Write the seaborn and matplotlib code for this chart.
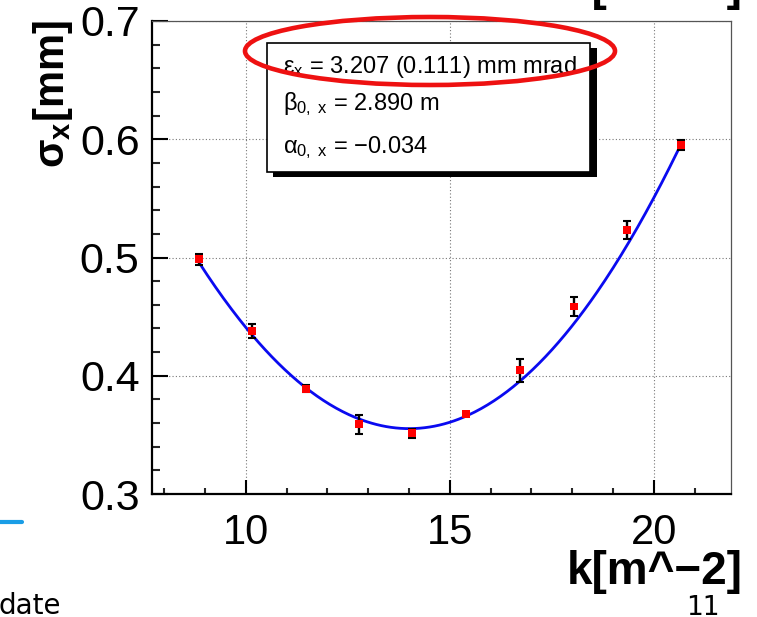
import numpy as np
import pandas as pd
import matplotlib
matplotlib.use("Agg")
import matplotlib.pyplot as plt
import seaborn as sns
from matplotlib.patches import Rectangle, Ellipse
from matplotlib.lines import Line2D
from matplotlib.ticker import MultipleLocator, FixedLocator, FormatStrFormatter

# ---- data ----
k_values = [8.86, 10.16, 11.47, 12.78, 14.08, 15.40, 16.72, 18.04, 19.35, 20.66]
sigma_values = [0.4986, 0.4377, 0.3890, 0.3589, 0.3513, 0.3673, 0.4048, 0.4586, 0.5230, 0.5950]
sigma_errors = [0.0047, 0.0058, 0.0030, 0.0080, 0.0038, 0.0012, 0.0097, 0.0082, 0.0075, 0.0040]
fit_curve_sigma = [0.4952, 0.4350, 0.3890, 0.3634, 0.3552, 0.3668, 0.3960, 0.4417, 0.5127, 0.5950]
x_ticks = [10, 15, 20]
y_ticks = [0.3, 0.4, 0.5, 0.6, 0.7]
stats_lines = [r"$ε_x$ = 3.207 (0.111) mm mrad",
               r"$β_{0,\ x}$ = 2.890 m",
               r"$α_{0,\ x}$ = −0.034"]

df = pd.DataFrame({"k": k_values, "sigma": sigma_values, "err": sigma_errors})

# smooth polynomial through the read-off fit-curve values
coef = np.polyfit(np.array(k_values), np.array(fit_curve_sigma), 4)
k_fit = np.linspace(min(k_values), max(k_values), 300)
fit_df = pd.DataFrame({"k": k_fit, "sigma": np.polyval(coef, k_fit)})

sns.set_theme(style="white")
plt.rcParams["font.family"] = ["Liberation Sans", "DejaVu Sans"]
plt.rcParams["mathtext.fontset"] = "custom"
plt.rcParams["mathtext.rm"] = "Liberation Sans"
plt.rcParams["mathtext.it"] = "Liberation Sans"
plt.rcParams["mathtext.sf"] = "Liberation Sans"
plt.rcParams["mathtext.bf"] = "Liberation Sans:bold"

W, H = 757, 617
fig = plt.figure(figsize=(W / 100, H / 100), dpi=100)
fig.patch.set_facecolor("white")

def fx(px):
    return px / W

def fy(py):
    return 1 - py / H

ax = fig.add_axes([fx(152), fy(494), (731 - 152) / W, (494 - 21) / H])
ax.set_facecolor("white")

# grid
for xv in x_ticks:
    ax.axvline(xv, color="#777777", lw=0.8, ls=(0, (1, 2)), zorder=0)
for yv in [0.4, 0.5, 0.6, 0.7]:
    ax.axhline(yv, color="#777777", lw=0.8, ls=(0, (1, 2)), zorder=0)

# fit curve
sns.lineplot(data=fit_df, x="k", y="sigma", ax=ax, color="#0a0af0", lw=2.0, zorder=3)
# error bars
ax.errorbar(df["k"], df["sigma"], yerr=df["err"], fmt="none", ecolor="black",
            elinewidth=1.7, capsize=2.6, capthick=1.5, zorder=4)
# points
sns.scatterplot(data=df, x="k", y="sigma", ax=ax, marker="s", s=32, color="#ff0000",
                edgecolor="none", linewidth=0, zorder=5)

ax.set_xlim(7.70, 21.89)
ax.set_ylim(0.3, 0.7)
ax.set_xlabel("")
ax.set_ylabel("")
ax.xaxis.set_major_locator(FixedLocator(x_ticks))
ax.xaxis.set_minor_locator(MultipleLocator(1))
ax.yaxis.set_major_locator(FixedLocator(y_ticks))
ax.yaxis.set_minor_locator(MultipleLocator(0.02))
ax.yaxis.set_major_formatter(FormatStrFormatter("%.1f"))
ax.tick_params(axis="x", which="major", direction="in", length=10, width=1.5,
               labelsize=30, pad=14, colors="black", bottom=True, top=False)
ax.tick_params(axis="x", which="minor", direction="in", length=4.5, width=1.5,
               bottom=True, top=False)
ax.tick_params(axis="y", which="major", direction="in", length=11.5, width=1.5,
               labelsize=31, pad=9, colors="black", left=True, right=False)
ax.tick_params(axis="y", which="minor", direction="in", length=6, width=1.5,
               left=True, right=False)

for side in ["left", "bottom"]:
    ax.spines[side].set_color("black")
    ax.spines[side].set_linewidth(1.6)
for side in ["top", "right"]:
    ax.spines[side].set_color("#555555")
    ax.spines[side].set_linewidth(0.9)

# axis titles
fig.text(fx(64), fy(20), r"$\mathbf{σ_x}$[mm]", rotation=90, rotation_mode="anchor",
         ha="right", va="baseline", fontsize=30, fontweight="bold", color="black")
fig.text(fx(743), fy(584), "k[m^−2]", ha="right", va="baseline", fontsize=33,
         fontweight="bold", color="black")
# cut-off title from the plot above
fig.text(fx(743), fy(0), "k[m^−2]", ha="right", va="baseline", fontsize=33,
         fontweight="bold", color="black")

# stats box with shadow
fig.add_artist(Rectangle((fx(273), fy(177)), (597 - 273) / W, (177 - 48) / H,
                         transform=fig.transFigure, facecolor="black", edgecolor="none", zorder=6))
fig.add_artist(Rectangle((fx(267), fy(172)), (590 - 267) / W, (172 - 43) / H,
                         transform=fig.transFigure, facecolor="white", edgecolor="black",
                         lw=1.2, zorder=7))
for line, base in zip(stats_lines, [73, 110, 153]):
    fig.text(fx(283), fy(base), line, ha="left", va="baseline", fontsize=17,
             color="black", zorder=8)

# red highlight ellipse
fig.add_artist(Ellipse((fx(430), fy(51)), 370 / W, 68 / H, transform=fig.transFigure,
                       facecolor="none", edgecolor="#ee1111", lw=3.3, zorder=9))

# slide decorations
fig.add_artist(Line2D([fx(0), fx(22)], [fy(522), fy(522)], transform=fig.transFigure,
                      color="#1a9de6", lw=3.0, zorder=2))
fig.text(fx(-1), fy(614), "date", ha="left", va="baseline", fontsize=20,
         family="DejaVu Sans", color="black")
fig.text(fx(720), fy(615), "11", ha="right", va="baseline", fontsize=19,
         family="DejaVu Sans", color="black")

fig.savefig("out.png", dpi=100, facecolor="white")
